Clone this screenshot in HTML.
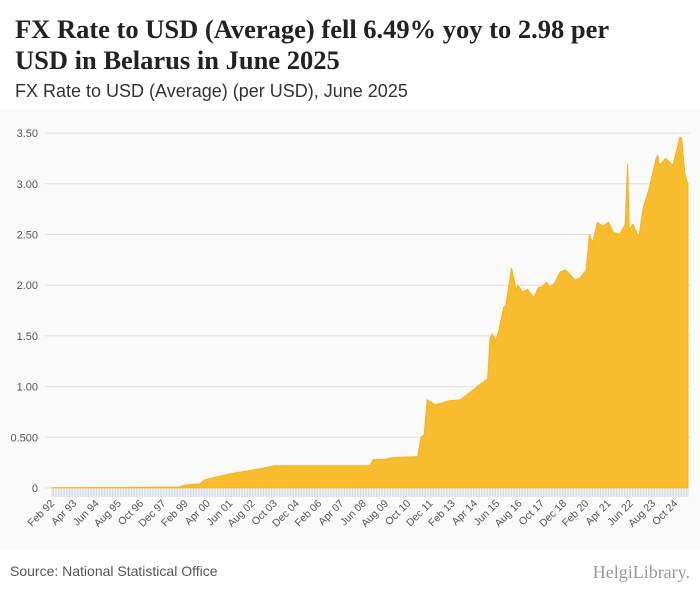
<!DOCTYPE html>
<html><head><meta charset="utf-8"><style>
body{margin:0;width:700px;height:596px;background:#fff;font-family:"Liberation Sans",sans-serif;overflow:hidden;position:relative}
#title{position:absolute;left:15px;top:14px;font:bold 26.5px/31px "Liberation Serif",serif;color:#222;width:645px}
#sub{position:absolute;left:15px;top:81px;font-size:18px;color:#333}
#chart{position:absolute;left:0;top:110px}
#src{position:absolute;left:10px;top:563px;font-size:14px;color:#555}
#logo{position:absolute;right:10px;top:562px;font:18px "Liberation Serif",serif;color:#999}
</style></head><body>
<div id="title">FX Rate to USD (Average) fell 6.49% yoy to 2.98 per USD in Belarus in June 2025</div>
<div id="sub">FX Rate to USD (Average) (per USD), June 2025</div>
<svg id="chart" width="700" height="440"></svg>
<div id="src">Source: National Statistical Office</div>
<div id="logo">HelgiLibrary.</div>
<script>
// months since Feb 1992
const monthIdx=[0,80,84,93,96,112,131,140,200,202,209,214,230,232,234,236,241,250,257,274,275.5,277,279,281,284,285.5,289,292,293,296,299,303,306,308,311,313,316,319.5,323,329,332,336,338,340,343,346.5,350,353,357,360.5,362,363,365.5,369,372,375,380,381,382,386,390.5,395,396,398,400];
const rates=[0.002,0.01,0.03,0.04,0.08,0.14,0.19,0.22,0.22,0.28,0.28,0.3,0.31,0.5,0.52,0.87,0.82,0.86,0.87,1.08,1.48,1.52,1.45,1.55,1.78,1.8,2.17,1.95,2.0,1.93,1.96,1.88,1.98,1.98,2.03,1.98,2.02,2.13,2.15,2.05,2.07,2.15,2.5,2.42,2.62,2.58,2.62,2.52,2.5,2.6,3.2,2.55,2.6,2.47,2.78,2.92,3.25,3.28,3.18,3.25,3.18,3.46,3.45,3.1,2.99];
const yTicks=[0,0.5,1,1.5,2,2.5,3,3.5];
const yTickLabels=["0","0.500","1.00","1.50","2.00","2.50","3.00","3.50"];
const xLabels=["Feb 92","Apr 93","Jun 94","Aug 95","Oct 96","Dec 97","Feb 99","Apr 00","Jun 01","Aug 02","Oct 03","Dec 04","Feb 06","Apr 07","Jun 08","Aug 09","Oct 10","Dec 11","Feb 13","Apr 14","Jun 15","Aug 16","Oct 17","Dec 18","Feb 20","Apr 21","Jun 22","Aug 23","Oct 24"];
const totalMonths=400;
const svg=document.getElementById('chart');
const NS='http://www.w3.org/2000/svg';
const X0=52,X1=688,Y0=378,PXU=101.4;
const xs=m=>X0+m*(X1-X0)/totalMonths;
const ys=v=>Y0-v*PXU;
function mk(t,a){const e=document.createElementNS(NS,t);for(const k in a)e.setAttribute(k,a[k]);svg.appendChild(e);return e;}
const bg=mk('rect',{x:0,y:0,width:700,height:440,fill:'#fafafa'});


yTicks.forEach((v,i)=>{
 const l=mk('line',{x1:45,x2:690,y1:ys(v),y2:ys(v),stroke:'#e0e0e0','stroke-width':1});
 
 
 const t=mk('text',{x:38,y:ys(v)+4,'text-anchor':'end','font-size':11,fill:'#555','font-family':'Liberation Sans, sans-serif'});
 t.textContent=yTickLabels[i];
 
 
});
let d='M'+xs(monthIdx[0])+','+Y0;
monthIdx.forEach((m,i)=>{d+=' L'+xs(m).toFixed(1)+','+ys(rates[i]).toFixed(1);});
d+=' L'+xs(monthIdx[monthIdx.length-1])+','+Y0+' Z';
const area=mk('path',{d:d,fill:'#f9bc2e',stroke:'#f5b120','stroke-width':1});


for(let m=0;m<=totalMonths;m++){
 const tk=mk('line',{x1:xs(m),x2:xs(m),y1:Y0+1,y2:Y0+9,stroke:'#c6d3ea','stroke-width':0.8});
 
 
}
xLabels.forEach((s,i)=>{
 const x=xs(i*14)+3,y=Y0+16;
 const t=mk('text',{x:x,y:y,'text-anchor':'end','font-size':10.5,fill:'#555','font-family':'Liberation Sans, sans-serif',transform:`rotate(-45 ${x} ${y})`});
 t.textContent=s;
 
 
});
</script>
</body></html>
